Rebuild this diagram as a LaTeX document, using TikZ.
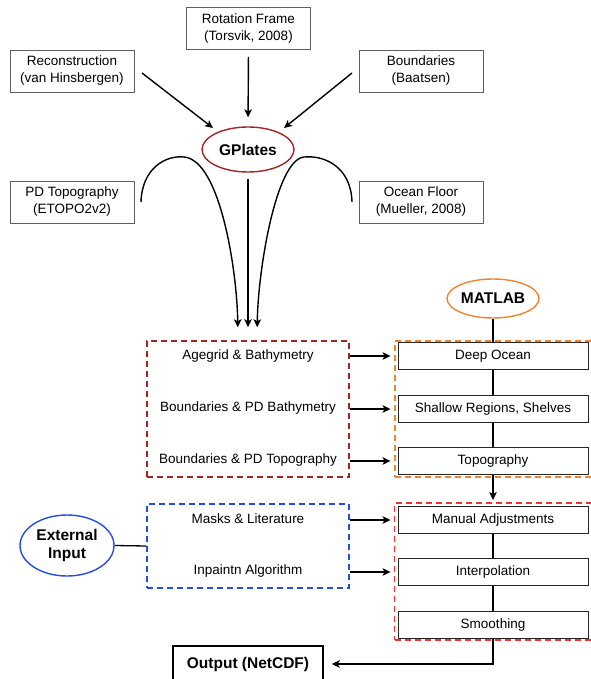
\documentclass[tikz,border=0pt]{standalone}
\usepackage{fontspec}
\setmainfont{Liberation Sans}
\usetikzlibrary{arrows.meta,shapes.geometric,calc}
\definecolor{darkred}{RGB}{165,35,35}
\definecolor{morange}{RGB}{245,130,45}
\definecolor{mblue}{RGB}{35,75,235}
\definecolor{bred}{RGB}{240,50,50}
\definecolor{boxgray}{RGB}{95,95,95}
\begin{document}
\begin{tikzpicture}[x=1pt,y=-1pt,
  srcbox/.style={draw=boxgray, line width=0.9pt, minimum width=124pt, minimum height=42pt, align=center, inner sep=0pt, font=\fontsize{13.5}{17}\selectfont},
  stepbox/.style={draw=black!85, line width=0.9pt, minimum width=190pt, minimum height=27pt, inner sep=0pt, font=\fontsize{13.5}{16}\selectfont},
  oval/.style={ellipse, line width=1.4pt, inner sep=0pt, align=center, font=\fontsize{15.5}{18.5}\selectfont\bfseries},
  lbl/.style={font=\fontsize{13.5}{16}\selectfont, inner sep=1pt},
  grp/.style={dash pattern=on 6pt off 4pt, line width=1.5pt, inner sep=0pt},
  arr/.style={-{Stealth[length=8pt,width=7.5pt,inset=2pt]}, line width=1.4pt},
  conn/.style={line width=1.3pt}]
\useasboundingbox (0,0) rectangle (590,679);

% source boxes
\node[srcbox] (rot) at (248.5,28.5) {Rotation Frame\\(Torsvik, 2008)};
\node[srcbox] (recon) at (72,71) {Reconstruction\\(van Hinsbergen)};
\node[srcbox] (bound) at (421,71) {Boundaries\\(Baatsen)};
\node[srcbox] (pdtopo) at (72,202) {PD Topography\\(ETOPO2v2)};
\node[srcbox] (ocean) at (421,202) {Ocean Floor\\(Mueller, 2008)};

% GPlates
\node[oval, draw=darkred, minimum width=92pt, minimum height=45pt] (gplates) at (248,149.5) {GPlates};

% groups
\node[grp, draw=darkred, minimum width=202pt, minimum height=136pt] (redgrp) at (248,409) {};
\node[grp, draw=morange, minimum width=210pt, minimum height=136pt] (orgrp) at (500,409) {};
\node[grp, draw=mblue, minimum width=202pt, minimum height=84pt] (bluegrp) at (248,546) {};
\node[grp, draw=bred, minimum width=210pt, minimum height=137pt] (brgrp) at (499.5,571.5) {};

% labels in groups
\node[lbl] (age) at (248,356) {Agegrid \& Bathymetry};
\node[lbl] (bpdb) at (248,408) {Boundaries \& PD Bathymetry};
\node[lbl] (bpdt) at (248,460) {Boundaries \& PD Topography};
\node[lbl] (masks) at (248,519) {Masks \& Literature};
\node[lbl] (inpaint) at (248,571) {Inpaintn Algorithm};

% MATLAB steps
\node[oval, draw=morange, minimum width=92pt, minimum height=39pt] (matlab) at (493,298.5) {MATLAB};
\node[stepbox] (deep) at (493,356) {Deep Ocean};
\node[stepbox] (shallow) at (493,409) {Shallow Regions, Shelves};
\node[stepbox] (topo) at (493,461) {Topography};
\node[stepbox] (manual) at (493,520) {Manual Adjustments};
\node[stepbox] (interp) at (493,572) {Interpolation};
\node[stepbox] (smooth) at (493,625) {Smoothing};

% external input and output
\node[oval, draw=mblue, minimum width=94pt, minimum height=61pt] (ext) at (67,545.5) {External\\Input};
\node[draw=black, line width=1.5pt, minimum width=150pt, minimum height=36pt, inner sep=0pt, font=\fontsize{15.5}{18}\selectfont\bfseries] (out) at (248,664) {Output (NetCDF)};

% arrows into GPlates
\coordinate (a1s) at (142,73);
\coordinate (a1e) at (213,128);
\coordinate (a3s) at (352,73);
\coordinate (a3e) at (284,128);
\draw[arr] (a1s) -- (a1e);
\draw[arr] (a3s) -- (a3e);
\draw[arr, shorten <=7pt, shorten >=9pt] (rot.south) -- (gplates.north);

% arrows out of GPlates
\coordinate (c1s) at (141,202);
\coordinate (c1p) at (184,157);
\coordinate (c3s) at (352,202);
\coordinate (c3p) at (304,157);
\draw[arr, shorten >=13pt] (c1s) .. controls (142,168) and (166,155) .. (c1p)
  .. controls (220,160) and (237,270) .. ([xshift=-10pt]redgrp.north);
\draw[arr, shorten >=13pt] (c3s) .. controls (351,168) and (326,155) .. (c3p)
  .. controls (276,160) and (258,270) .. ([xshift=9pt]redgrp.north);
\draw[arr, shorten <=6.5pt, shorten >=13pt] (gplates.south) -- (redgrp.north);

% group rows to steps
\draw[arr, shorten >=7pt] (redgrp.east |- deep) -- (deep.west);
\draw[arr, shorten >=7pt] (redgrp.east |- shallow) -- (shallow.west);
\draw[arr, shorten >=7pt] (redgrp.east |- topo) -- (topo.west);
\draw[arr, shorten >=7pt] (bluegrp.east |- manual) -- (manual.west);
\draw[arr, shorten >=7pt] (bluegrp.east |- interp) -- (interp.west);

% MATLAB chain
\draw[conn] (matlab.south) -- (deep.north);
\draw[conn] (deep.south) -- (shallow.north);
\draw[conn] (shallow.south) -- (topo.north);
\draw[arr, shorten >=6pt] (topo.south) -- (manual.north);
\draw[conn] (manual.south) -- (interp.north);
\draw[conn] (interp.south) -- (smooth.north);
\draw[arr, shorten >=8pt] (smooth.south) |- (out.east);

% external input
\draw[conn] (ext.east) -- (bluegrp.west);
\end{tikzpicture}
\end{document}
